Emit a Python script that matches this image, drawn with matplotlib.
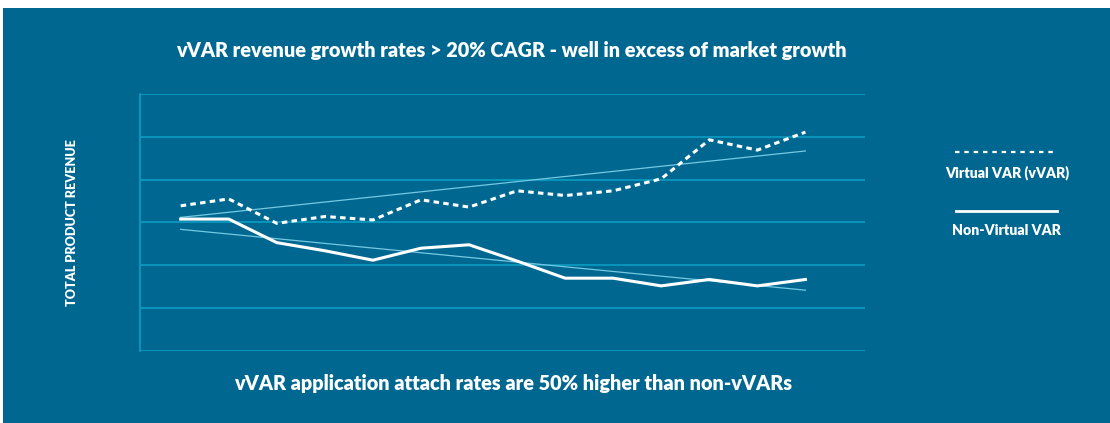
import numpy as np
from matplotlib import pyplot as plt
from matplotlib.lines import Line2D

# NOTE: values, grid units 0..6 (no tick labels shown)
periods = list(range(14))
vvar = [3.39, 3.55, 2.98, 3.14, 3.06, 3.53, 3.36, 3.74, 3.63, 3.74, 4.02, 4.93, 4.69, 5.11]
non_vvar = [3.08, 3.08, 2.53, 2.34, 2.12, 2.40, 2.48, 2.10, 1.70, 1.70, 1.52, 1.67, 1.52, 1.67]

# trend lines, start and end values
trend_x = [0, 13]
vvar_trend = [3.12, 4.67]
non_vvar_trend = [2.84, 1.42]

title = "vVAR revenue growth rates > 20% CAGR - well in excess of market growth"
subtitle = "vVAR application attach rates are 50% higher than non-vVARs"
ylabel = "TOTAL PRODUCT REVENUE"
labels = ["Virtual VAR (vVAR)", "Non-Virtual VAR"]

bg = '#006791'
grid_col = '#0a9cc4'
trend_col = '#74c9e2'
font = ['Lato', 'DejaVu Sans']
wt = 'heavy'

fig = plt.figure(figsize=(11.10, 4.23), dpi=100)
fig.patch.set_facecolor('white')
# NOTE: blue panel, white strip on top and left
fig.add_artist(plt.Rectangle((3 / 1110, 0), 1, 1 - 8 / 423, transform=fig.transFigure,
                             facecolor=bg, edgecolor='none', zorder=-10))

ax = fig.add_axes([140 / 1110, 1 - 351 / 423, 725 / 1110, 257 / 423])
ax.set_facecolor('none')
ax.set_xlim(-0.847, 14.24)
ax.set_ylim(0, 6)
ax.set_yticks(range(7))
ax.set_xticks([])
ax.tick_params(left=False, labelleft=False)
ax.grid(axis='y', color=grid_col, linewidth=1.2)
for s in ['top', 'right', 'bottom']:
    ax.spines[s].set_visible(False)
ax.spines['left'].set_color(grid_col)
ax.spines['left'].set_linewidth(1.2)

ax.plot(trend_x, vvar_trend, color=trend_col, linewidth=0.9)
ax.plot(trend_x, non_vvar_trend, color=trend_col, linewidth=0.9)
ax.plot(periods, vvar, color='white', linewidth=2.2, dashes=(1.8, 1.4))
ax.plot(periods, non_vvar, color='white', linewidth=2.2)

fig.text(511 / 1110, 1 - 50 / 423, title, color='white', fontsize=14.3, fontweight=wt,
         family=font, ha='center', va='center')
fig.text(513 / 1110, 1 - 383 / 423, subtitle, color='white', fontsize=14.3, fontweight=wt,
         family=font, ha='center', va='center')
fig.text(71.5 / 1110, 1 - 223 / 423, ylabel, color='white', fontsize=9.1, fontweight=wt,
         family=font, ha='center', va='center', rotation=90)

# legend, line above label
fig.add_artist(Line2D([955 / 1110, 1056 / 1110], [1 - 152 / 423] * 2, transform=fig.transFigure,
                      color='white', linewidth=1.6, dashes=(2, 2.2)))
fig.text(1007 / 1110, 1 - 173 / 423, labels[0], color='white', fontsize=10.2, fontweight=wt,
         family=font, ha='center', va='center')
fig.add_artist(Line2D([956 / 1110, 1057 / 1110], [1 - 211 / 423] * 2, transform=fig.transFigure,
                      color='white', linewidth=2.0))
fig.text(1006 / 1110, 1 - 230 / 423, labels[1], color='white', fontsize=10.2, fontweight=wt,
         family=font, ha='center', va='center')

plt.savefig('out.png', dpi=100, facecolor=fig.get_facecolor())
